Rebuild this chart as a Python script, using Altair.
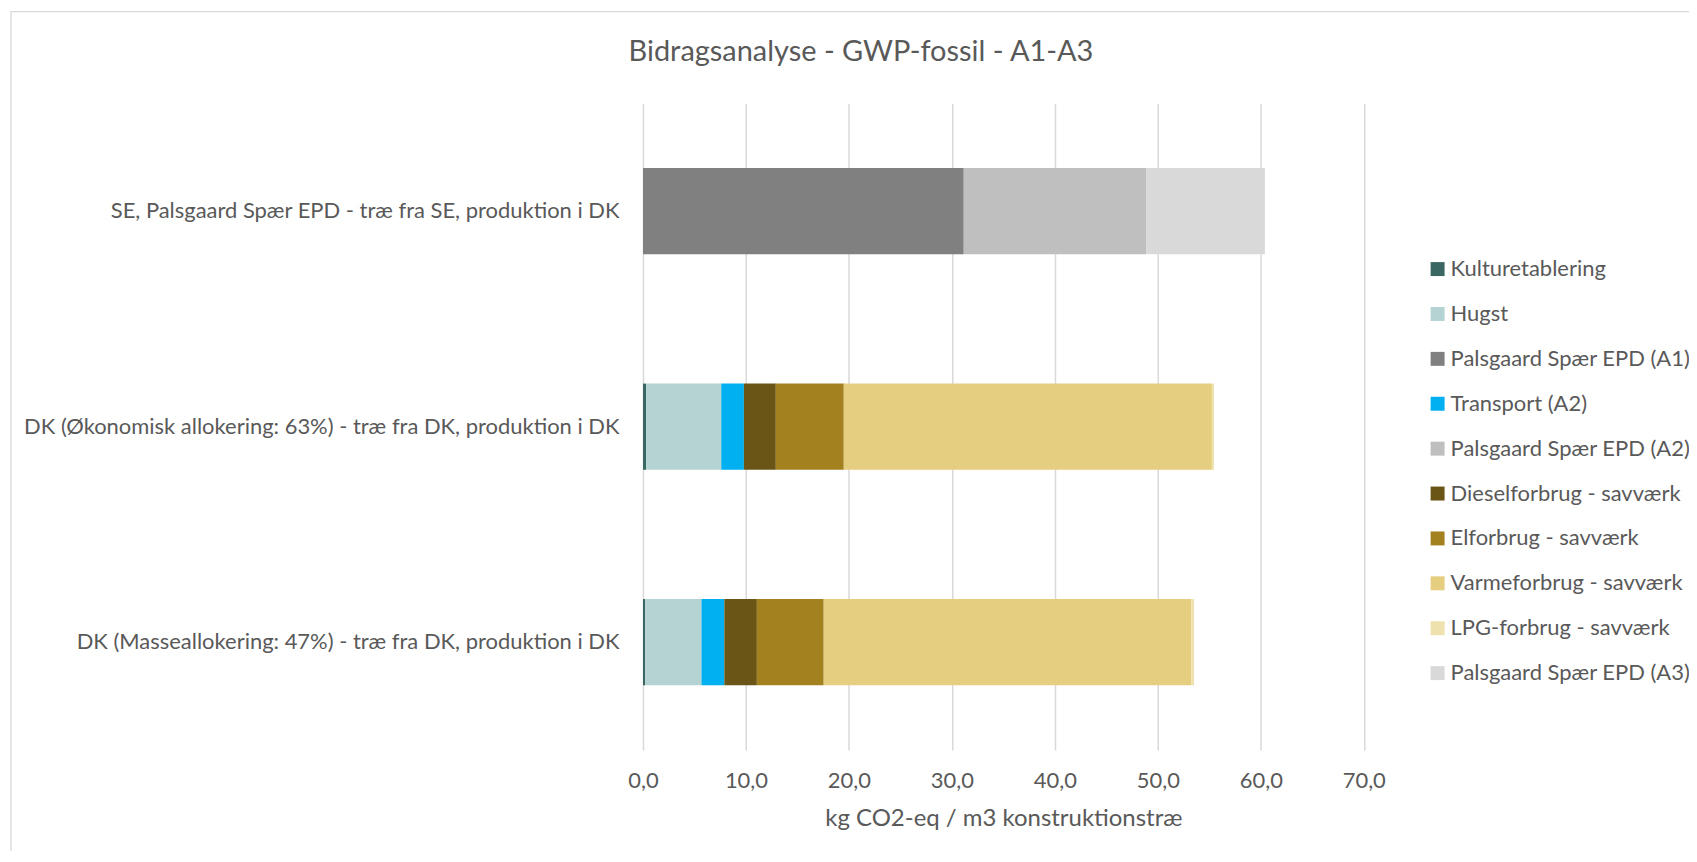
import altair as alt
import pandas as pd

# ---------------- data ----------------
categories = [
    "SE, Palsgaard Spær EPD - træ fra SE, produktion i DK",
    "DK (Økonomisk allokering: 63%) - træ fra DK, produktion i DK",
    "DK (Masseallokering: 47%) - træ fra DK, produktion i DK",
]
series = [
    "Kulturetablering",
    "Hugst",
    "Palsgaard Spær EPD (A1)",
    "Transport (A2)",
    "Palsgaard Spær EPD (A2)",
    "Dieselforbrug - savværk",
    "Elforbrug - savværk",
    "Varmeforbrug - savværk",
    "LPG-forbrug - savværk",
    "Palsgaard Spær EPD (A3)",
]
colors = [
    "#3A6762", "#B4D3D2", "#808080", "#00B0F0", "#BFBFBF",
    "#6B5516", "#A4811F", "#E6CE80", "#EFE1AE", "#D9D9D9",
]
# values per series, in the order of `categories`
kulturetablering = [0.0, 0.30, 0.22]
hugst = [0.0, 7.30, 5.46]
palsgaard_a1 = [31.15, 0.0, 0.0]
transport_a2 = [0.0, 2.20, 2.22]
palsgaard_a2 = [17.75, 0.0, 0.0]
diesel = [0.0, 3.10, 3.16]
el = [0.0, 6.60, 6.49]
varme = [0.0, 35.75, 35.71]
lpg = [0.0, 0.20, 0.26]
palsgaard_a3 = [11.50, 0.0, 0.0]

tick_values = [0, 10, 20, 30, 40, 50, 60, 70]
title_text = "Bidragsanalyse - GWP-fossil - A1-A3"
x_title = "kg CO2-eq / m3 konstruktionstræ"

all_values = [kulturetablering, hugst, palsgaard_a1, transport_a2, palsgaard_a2,
              diesel, el, varme, lpg, palsgaard_a3]

rows = []
for i, (s, vals) in enumerate(zip(series, all_values)):
    for c, v in zip(categories, vals):
        if v > 0:
            rows.append({"cat": c, "series": s, "val": v, "order": i})
df = pd.DataFrame(rows)

FONT = "Lato"
TXT = "#595959"
GRID = "#D9D9D9"

bars = alt.Chart(df).mark_bar().encode(
    x=alt.X(
        "val:Q",
        stack="zero",
        scale=alt.Scale(domain=[0, 70], nice=False, zero=True),
        axis=alt.Axis(
            values=tick_values,
            labelExpr="replace(format(datum.value, '.1f'), '.', ',')",
            grid=True, gridColor=GRID, gridWidth=1.5,
            domain=False, ticks=False, tickSize=0,
            labelFlush=False, labelOverlap=False,
            labelFont=FONT, labelFontSize=22, labelColor=TXT, labelPadding=21,
            title=x_title, titleFont=FONT, titleFontSize=24, titleColor=TXT,
            titleFontWeight="normal", titlePadding=15,
        ),
    ),
    y=alt.Y(
        "cat:N",
        sort=categories,
        scale=alt.Scale(paddingInner=0.6, paddingOuter=0.3),
        axis=alt.Axis(
            title=None, domain=False, ticks=False, tickSize=0, grid=False,
            labelFont=FONT, labelFontSize=22, labelColor=TXT,
            labelPadding=24, labelLimit=0,
        ),
    ),
    color=alt.Color(
        "series:N",
        scale=alt.Scale(domain=series, range=colors),
        legend=alt.Legend(
            title=None, orient="none", legendX=785.5, legendY=155,
            symbolType="square", symbolSize=196, symbolStrokeWidth=0,
            labelFont=FONT, labelFontSize=22, labelColor=TXT,
            labelOffset=2, labelLimit=0, rowPadding=23, padding=0,
        ),
    ),
    order=alt.Order("order:Q"),
)

border = alt.Chart(pd.DataFrame({"a": [0]})).mark_rect(
    fillOpacity=0, stroke=GRID, strokeWidth=1.3
).encode(
    x=alt.value(-633.5), x2=alt.value(1200),
    y=alt.value(-92), y2=alt.value(900),
)

title = alt.Chart(pd.DataFrame({"t": [title_text]})).mark_text(
    font=FONT, fontSize=29, color=TXT, align="center", baseline="middle"
).encode(
    x=alt.value(218.5), y=alt.value(-51.7), text="t:N"
)

chart = alt.layer(border, bars, title).properties(
    width=722.5,
    height=648,
    autosize=alt.AutoSizeParams(type="none"),
    padding={"left": 636.5, "top": 94.7, "right": 326, "bottom": 100},
).configure_view(stroke=None)

chart.save("out.html", embed_options={"renderer": "svg", "actions": False})
